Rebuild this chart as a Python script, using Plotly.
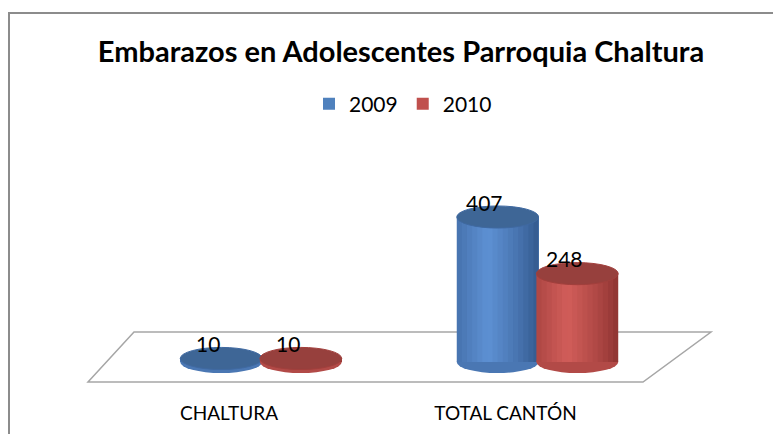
import plotly.graph_objects as go

categories = ["CHALTURA", "TOTAL CANTÓN"]
series_names = ["2009", "2010"]
values_2009 = [10, 407]
values_2010 = [10, 248]
title_text = "Embarazos en Adolescentes Parroquia Chaltura"

W, H = 781, 434
OFF = 8  # page body margin of the browser
# plot area in screen pixels: x 80..740, y 130..398
ML, MR, MT, MB = 80 - OFF, W - (740 - OFF), 130 - OFF, H - (398 - OFF)
PW, PH = W - ML - MR, H - MT - MB

def px2paper(px, py):
    return ((px - OFF - ML) / PW, (H - MB - (py - OFF)) / PH)

FONT = "Lato, 'Open Sans', sans-serif"

bar_w = 0.296
offsets = [-0.292, -0.004]
ry = 31  # ellipse half height in data units
styles = [
    dict(base="#4F81BD", dark=(50, 88, 140), light=(94, 145, 212), top="#3E6696"),
    dict(base="#C0504D", dark=(140, 50, 48), light=(210, 94, 90), top="#97403D"),
]

fig = go.Figure()
all_vals = [values_2009, values_2010]
for name, vals, st, off in zip(series_names, all_vals, styles, offsets):
    fig.add_trace(go.Bar(x=list(range(len(categories))), y=vals, name=name,
                         width=bar_w, offset=off, marker_color=st["base"],
                         marker_line_width=0, hoverinfo="skip"))

shapes = []
# floor (decoration)
fl = [px2paper(88, 382), px2paper(643, 382), px2paper(711, 332), px2paper(134, 332)]
shapes.append(dict(type="path", xref="paper", yref="paper",
                   path="M %f %f L %f %f L %f %f L %f %f Z" % (fl[0] + fl[1] + fl[2] + fl[3]),
                   line=dict(color="#A6A6A6", width=1.5), fillcolor="white", layer="below"))
# outer border
b1 = px2paper(9, 450); b2 = px2paper(9, 13); b3 = px2paper(800, 13)
shapes.append(dict(type="path", xref="paper", yref="paper",
                   path="M %f %f L %f %f L %f %f" % (b1 + b2 + b3),
                   line=dict(color="#8C8C8C", width=2), layer="below"))

def mix(c1, c2, t):
    return "rgb(%d,%d,%d)" % tuple(int(a + (b - a) * t) for a, b in zip(c1, c2))

N = 16
for vals, st, off in zip(all_vals, styles, offsets):
    for i, v in enumerate(vals):
        x0 = i + off
        x1 = x0 + bar_w
        shapes.append(dict(type="circle", xref="x", yref="y", x0=x0, x1=x1, y0=-ry, y1=ry,
                           fillcolor=mix(st["dark"], st["light"], 0.55), line_width=0, layer="above"))
        for k in range(N):
            t = (k + 0.5) / N
            lt = 1 - abs(t - 0.38) / 0.62
            lt = max(0.0, lt) ** 0.8
            sx0 = x0 + bar_w * k / N
            sx1 = x0 + bar_w * (k + 1.15) / N
            shapes.append(dict(type="rect", xref="x", yref="y", x0=sx0, x1=min(sx1, x1), y0=0, y1=v,
                               fillcolor=mix(st["dark"], st["light"], lt), line_width=0, layer="above"))
        shapes.append(dict(type="circle", xref="x", yref="y", x0=x0, x1=x1, y0=v - ry, y1=v + ry,
                           fillcolor=st["top"], line=dict(color=mix(st["dark"], st["light"], 0.3), width=1),
                           layer="above"))

annotations = []
for vals, off in zip(all_vals, offsets):
    for i, v in enumerate(vals):
        annotations.append(dict(x=i + off + bar_w / 2, y=v, xref="x", yref="y", text=str(v),
                                showarrow=False, xshift=-13, yshift=15,
                                font=dict(family=FONT, size=21, color="black")))

fig.update_layout(
    width=W, height=H,
    margin=dict(l=ML, r=MR, t=MT, b=MB),
    paper_bgcolor="white", plot_bgcolor="white",
    title=dict(text="<b>" + title_text + "</b>", x=(401 - OFF) / W, y=1 - (52 - OFF) / H,
               xanchor="center", yanchor="middle", xref="container", yref="container",
               font=dict(family=FONT, size=29, color="black")),
    legend=dict(orientation="h", xanchor="center", yanchor="middle",
                x=(403 - OFF - ML) / PW, y=(H - MB - (104 - OFF)) / PH,
                font=dict(family=FONT, size=21, color="black"), itemwidth=30),
    xaxis=dict(range=[-0.6546, 1.7324], tickvals=list(range(len(categories))),
               ticktext=categories, showgrid=False, zeroline=False, showline=False,
               ticklabelshift=-32, ticklabelstandoff=2,
               tickfont=dict(family=FONT, size=19, color="black"), ticks=""),
    yaxis=dict(range=[-101, 651.2], visible=False),
    shapes=shapes, annotations=annotations, showlegend=True, bargap=0,
)

fig.write_html("out.html")
